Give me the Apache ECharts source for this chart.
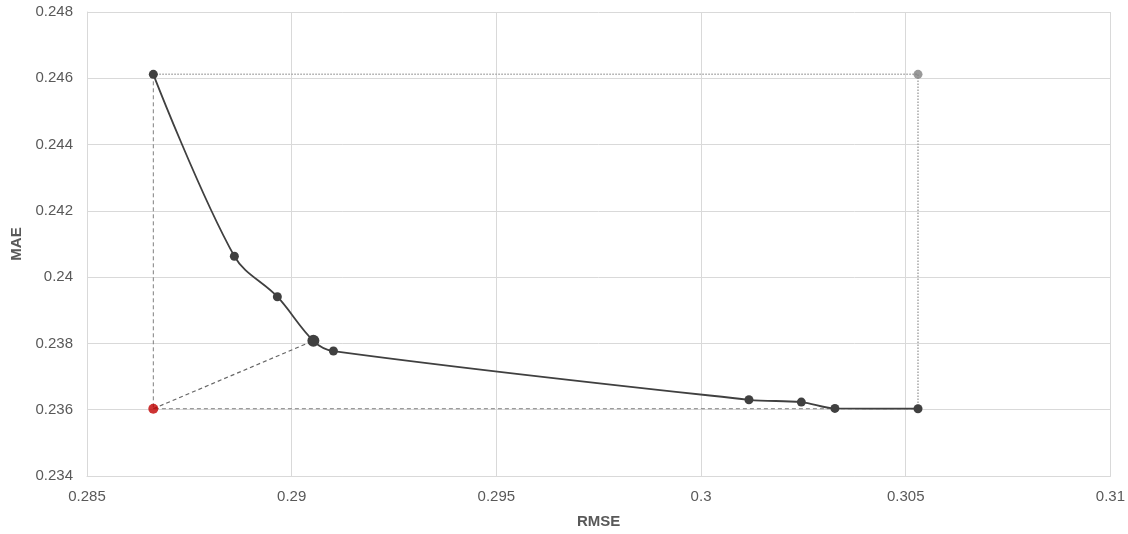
<!DOCTYPE html>
<html>
<head>
<meta charset="utf-8">
<script src="https://cdn.jsdelivr.net/npm/echarts@6/dist/echarts.min.js"></script>
<style>
  html, body { margin: 0; padding: 0; background: #ffffff; }
  #chart { width: 1128px; height: 534px; }
</style>
</head>
<body>
<div id="chart"></div>
<script>
// Pareto frontier of RMSE vs MAE
const frontierRmse = [0.28662, 0.28860, 0.28965, 0.29053, 0.29102, 0.30117, 0.30245, 0.30327, 0.30530];
const frontierMae  = [0.24612, 0.24063, 0.23941, 0.23808, 0.23777, 0.23630, 0.23623, 0.23604, 0.23603];
const chosenIndex = 3;                 // frontier point nearest the ideal point
const idealPoint = [0.28662, 0.23603]; // best RMSE, best MAE
const nadirPoint = [0.30530, 0.24612]; // worst RMSE, worst MAE

const xTicks = { min: 0.285, max: 0.31, interval: 0.005 };
const yTicks = { min: 0.234, max: 0.248, interval: 0.002 };

const frontier = frontierRmse.map((x, i) => ({
  value: [x, frontierMae[i]],
  symbolSize: i === chosenIndex ? 12 : 9
}));
const chosen = [frontierRmse[chosenIndex], frontierMae[chosenIndex]];

const labelColor = '#595959';
const gridColor = '#d9d9d9';
const font = 'Liberation Sans, Arial, sans-serif';

const chart = echarts.init(document.getElementById('chart'));
chart.setOption({
  animation: false,
  grid: { left: 87, right: 16, top: 12, bottom: 54 },
  xAxis: {
    type: 'value', min: xTicks.min, max: xTicks.max, interval: xTicks.interval,
    name: 'RMSE', nameLocation: 'middle', nameGap: 38,
    nameTextStyle: { color: labelColor, fontWeight: 'bold', fontSize: 15, fontFamily: font },
    axisLine: { show: true, lineStyle: { color: gridColor } },
    axisTick: { show: false },
    axisLabel: { color: labelColor, fontSize: 15, fontFamily: font, margin: 13 },
    splitLine: { show: true, lineStyle: { color: gridColor, width: 1 } }
  },
  yAxis: {
    type: 'value', min: yTicks.min, max: yTicks.max, interval: yTicks.interval,
    name: 'MAE', nameLocation: 'middle', nameGap: 62,
    nameTextStyle: { color: labelColor, fontWeight: 'bold', fontSize: 15, fontFamily: font },
    axisLine: { show: true, lineStyle: { color: gridColor } },
    axisTick: { show: false },
    axisLabel: { color: labelColor, fontSize: 15, fontFamily: font, margin: 14 },
    splitLine: { show: true, lineStyle: { color: gridColor, width: 1 } }
  },
  series: [
    {
      // upper/right bounding box edges through the nadir point
      type: 'line', symbol: 'none', silent: true,
      data: [[idealPoint[0], nadirPoint[1]], nadirPoint, [nadirPoint[0], idealPoint[1]]],
      lineStyle: { color: '#a6a6a6', width: 1.5, type: 'dotted' }
    },
    {
      // lower/left bounding box edges through the ideal point
      type: 'line', symbol: 'none', silent: true,
      data: [[idealPoint[0], nadirPoint[1]], idealPoint, [nadirPoint[0], idealPoint[1]]],
      lineStyle: { color: '#7f7f7f', width: 1, type: [4, 3] }
    },
    {
      // distance from the ideal point to the chosen solution
      type: 'line', symbol: 'none', silent: true,
      data: [idealPoint, chosen],
      lineStyle: { color: '#666666', width: 1.2, type: [4, 3] }
    },
    {
      type: 'line', smooth: 0.35, symbol: 'circle',
      data: frontier,
      lineStyle: { color: '#404040', width: 1.8 },
      itemStyle: { color: '#404040' },
      z: 5
    },
    {
      type: 'scatter', symbol: 'circle', symbolSize: 10,
      data: [idealPoint],
      itemStyle: { color: '#c00000' }, z: 6
    },
    {
      type: 'scatter', symbol: 'circle', symbolSize: 9,
      data: [nadirPoint],
      itemStyle: { color: '#808080' }, z: 6
    }
  ]
});
</script>
</body>
</html>
